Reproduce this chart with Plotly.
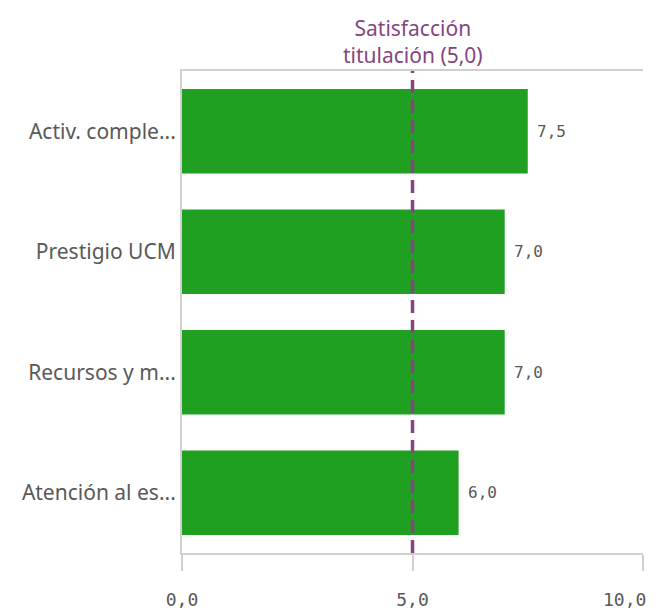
import plotly.graph_objects as go

categories = ["Activ. comple...", "Prestigio UCM", "Recursos y m...", "Atención al es..."]
values = [7.5, 7.0, 7.0, 6.0]
ref_value = 5.0
ref_label = "Satisfacción<br>titulación"
tick_vals = [0, 5, 10]
tick_text = ["0,0", "5,0", "10,0"]

def fmt(v):
    return f"{v:.1f}".replace(".", ",")

mono = "DejaVu Sans Mono"
sans = "Noto Sans"
purple = "#86457f"
gray_txt = "#595959"

fig = go.Figure()
fig.add_trace(go.Bar(
    y=categories, x=values, orientation="h",
    marker=dict(color="#20a020", line=dict(width=0)),
    width=0.7,
    hoverinfo="skip",
))

for cat, v in zip(categories, values):
    fig.add_annotation(x=v, y=cat, xref="x", yref="y", text=fmt(v),
                       showarrow=False, xanchor="left", yanchor="middle", xshift=7,
                       font=dict(family=mono, size=16, color=gray_txt))

fig.add_shape(type="line", xref="x", yref="paper", x0=ref_value, x1=ref_value,
              y0=0, y1=1.0, line=dict(color=purple, width=3.5, dash="13px,7px"))
fig.add_annotation(xref="x", yref="paper", x=ref_value, y=1.0, yshift=0,
                   text=ref_label + f" ({fmt(ref_value)})",
                   showarrow=False, xanchor="center", yanchor="bottom",
                   font=dict(family=sans, size=21, color=purple))

# last tick label is kept inside the chart edge (right-aligned at its tick)
tt = list(tick_text)
tt[-1] = ""
fig.add_annotation(xref="x", yref="paper", x=tick_vals[-1], y=0, yshift=-46, xshift=5,
                   text=tick_text[-1], showarrow=False, xanchor="right", yanchor="middle",
                   font=dict(family=mono, size=18, color=gray_txt))

fig.update_layout(
    width=656, height=606,
    margin=dict(l=174, r=21, t=63, b=61),
    paper_bgcolor="white", plot_bgcolor="white",
    showlegend=False,
    bargap=0.3,
    xaxis=dict(range=[0, 10], tickvals=tick_vals, ticktext=tt,
               automargin=False,
               showgrid=False, zeroline=False,
               showline=True, linecolor="#d0d0d0", linewidth=2, mirror=True,
               ticks="outside", ticklen=16, tickcolor="#d0d0d0", tickwidth=2,
               ticklabelstandoff=13,
               tickfont=dict(family=mono, size=18, color=gray_txt)),
    yaxis=dict(categoryorder="array", categoryarray=categories[::-1],
               range=[-0.5, len(categories) - 0.5],
               automargin=False,
               showgrid=False, zeroline=False,
               showline=True, linecolor="#d0d0d0", linewidth=2,
               ticks="", ticklabelstandoff=0,
               tickfont=dict(family=sans, size=21, color=gray_txt)),
)

fig.write_html("out.html")
